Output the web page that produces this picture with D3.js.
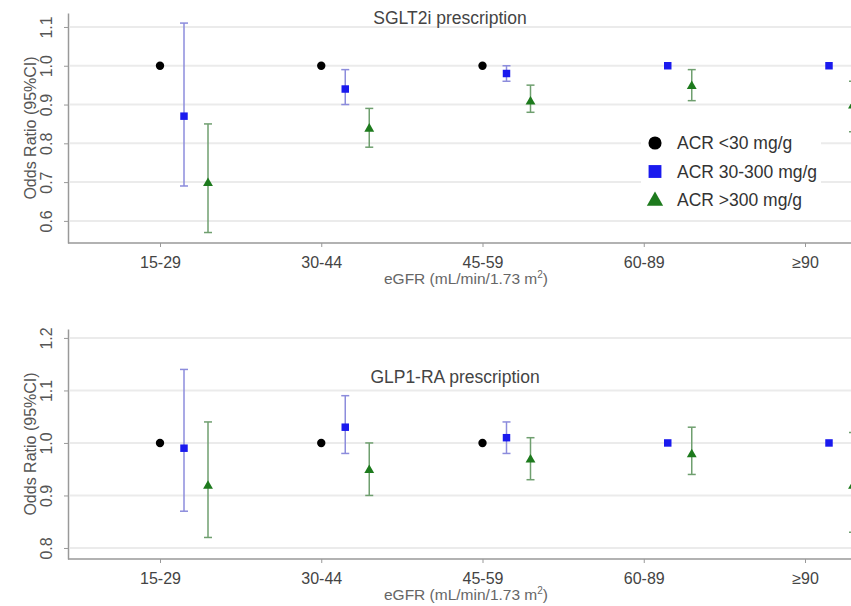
<!DOCTYPE html>
<style>
  body { margin: 0; background: #fff; }
  svg { font-family: "Liberation Sans", Arial, sans-serif; }
</style>
<svg width="851" height="606"></svg>
<script src="https://d3js.org/d3.v7.min.js"></script>
<script>

var groups = ["15-29", "30-44", "45-59", "60-89", "\u226590"];
var series = ["ACR <30 mg/g", "ACR 30-300 mg/g", "ACR >300 mg/g"];

// SGLT2i panel: odds ratio, lower, upper per series (null = not shown)
var sgltOR  = [[1.0, 1.0, 1.0, null, null], [0.87, 0.94, 0.98, 1.0, 1.0], [0.70, 0.84, 0.91, 0.95, 0.90]];
var sgltLo  = [[null, null, null, null, null], [0.69, 0.90, 0.96, null, null], [0.57, 0.79, 0.88, 0.91, 0.83]];
var sgltHi  = [[null, null, null, null, null], [1.11, 0.99, 1.00, null, null], [0.85, 0.89, 0.95, 0.99, 0.96]];
var sgltTicks = [0.6, 0.7, 0.8, 0.9, 1.0, 1.1];

// GLP1-RA panel
var glpOR = [[1.0, 1.0, 1.0, null, null], [0.99, 1.03, 1.01, 1.0, 1.0], [0.92, 0.95, 0.97, 0.98, 0.92]];
var glpLo = [[null, null, null, null, null], [0.87, 0.98, 0.98, null, null], [0.82, 0.90, 0.93, 0.94, 0.83]];
var glpHi = [[null, null, null, null, null], [1.14, 1.09, 1.04, null, null], [1.04, 1.00, 1.01, 1.03, 1.02]];
var glpTicks = [0.8, 0.9, 1.0, 1.1, 1.2];

var svg = d3.select("svg");
var width = 851;

var fillCol = ["#000000", "#1a1aee", "#1d7a1d"];
var barCol = ["#000000", "#8c8cdc", "#6f9f6f"];
var symTypes = [d3.symbolCircle, d3.symbolSquare, d3.symbolTriangle];
var symSizes = [55, 56, 42];

var x = d3.scalePoint().domain(groups).range([160, 805]);
var off = d3.scalePoint().domain(series).range([0, 48]);

function panel(opt) {
  var g = svg.append("g");
  var y = d3.scaleLinear().domain(opt.domain).range([opt.bottom, opt.top]);

  // grid lines
  g.selectAll(".grid").data(opt.ticks).enter().append("line")
    .attr("x1", 70).attr("x2", width)
    .attr("y1", function(d) { return y(d); })
    .attr("y2", function(d) { return y(d); })
    .attr("stroke", "#ebebeb").attr("stroke-width", 2);

  // y axis
  var ya = g.append("g").attr("transform", "translate(68,0)")
    .call(d3.axisLeft(y).tickValues(opt.ticks).tickFormat(d3.format(".1f")).tickSize(4).tickSizeOuter(0));
  ya.select(".domain").attr("stroke", "#999").attr("stroke-width", 1.5);
  ya.selectAll(".tick line").attr("stroke", "#999");
  ya.selectAll(".tick text")
    .attr("transform", "rotate(-90)")
    .attr("x", 0).attr("y", -16)
    .attr("dy", "0")
    .attr("text-anchor", "middle")
    .attr("fill", "#555").style("font-size", "16px");

  // x axis
  var xa = g.append("g").attr("transform", "translate(0," + opt.bottom + ")")
    .call(d3.axisBottom(x).tickSize(4).tickSizeOuter(0).tickPadding(10));
  xa.select(".domain").attr("d", "M68,0H" + width).attr("stroke", "#999").attr("stroke-width", 1.5);
  xa.selectAll(".tick line").attr("stroke", "#999");
  xa.selectAll(".tick text").attr("fill", "#444").style("font-size", "16px");

  var ly = (opt.top + opt.bottom) / 2;
  g.append("text")
    .attr("x", 36).attr("y", ly)
    .attr("transform", "rotate(-90,36," + ly + ")")
    .attr("text-anchor", "middle").attr("fill", "#555").style("font-size", "16px")
    .text("Odds Ratio (95%CI)");

  g.append("text")
    .attr("x", 466).attr("y", opt.bottom + 41)
    .attr("text-anchor", "middle").attr("fill", "#666").style("font-size", "15.5px")
    .html("eGFR (mL/min/1.73 m<tspan dy='-6' font-size='10px'>2</tspan><tspan dy='6'>)</tspan>");

  g.append("text")
    .attr("x", opt.titleX).attr("y", opt.titleY)
    .attr("text-anchor", "middle").attr("fill", "#444").style("font-size", "17.5px")
    .text(opt.title);

  series.forEach(function(s, si) {
    groups.forEach(function(grp, gi) {
      var v = opt.or[si][gi];
      if (v == null) return;
      var cx = x(grp) + off(s);
      var lo = opt.lo[si][gi], hi = opt.hi[si][gi];
      if (lo != null) {
        g.append("line").attr("x1", cx).attr("x2", cx).attr("y1", y(lo)).attr("y2", y(hi))
          .attr("stroke", barCol[si]).attr("stroke-width", 1.5);
        [lo, hi].forEach(function(c) {
          g.append("line").attr("x1", cx - 4).attr("x2", cx + 4).attr("y1", y(c)).attr("y2", y(c))
            .attr("stroke", barCol[si]).attr("stroke-width", 1.5);
        });
      }
      g.append("path")
        .attr("d", d3.symbol().type(symTypes[si]).size(symSizes[si])())
        .attr("transform", "translate(" + cx + "," + (y(v) + (si == 2 ? 1 : 0)) + ")")
        .attr("fill", fillCol[si]);
    });
  });
  return g;
}

panel({ or: sgltOR, lo: sgltLo, hi: sgltHi, ticks: sgltTicks, domain: [0.543, 1.136],
        top: 13, bottom: 243, title: "SGLT2i prescription", titleX: 450, titleY: 24 });
panel({ or: glpOR, lo: glpLo, hi: glpHi, ticks: glpTicks, domain: [0.779, 1.217],
        top: 329, bottom: 559, title: "GLP1-RA prescription", titleX: 455, titleY: 383 });

// legend (top panel)
var legend = svg.append("g").selectAll("g").data(series).enter().append("g")
  .attr("transform", function(d, i) { return "translate(655," + (143 + i * 28.5) + ")"; });
legend.append("rect").attr("x", -14).attr("y", -13).attr("width", 180).attr("height", 27).attr("fill", "#fff");
legend.append("path")
  .attr("d", function(d, i) { return d3.symbol().type(symTypes[i]).size([135, 165, 115][i])(); })
  .attr("transform", function(d, i) { return i == 2 ? "translate(0,1)" : null; })
  .attr("fill", function(d, i) { return fillCol[i]; });
legend.append("text")
  .attr("x", 22).attr("dy", "0.35em")
  .attr("fill", "#333").style("font-size", "17.5px")
  .text(function(d) { return d; });

</script>
